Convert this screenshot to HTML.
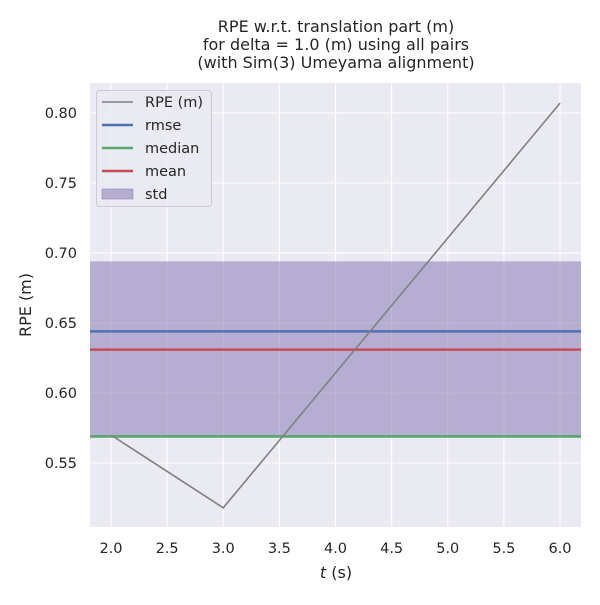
<!DOCTYPE html>
<html><head><meta charset="utf-8"><style>
body{margin:0;background:#fff}
text{font-family:"DejaVu Sans","Liberation Sans",sans-serif;fill:#262626}
</style></head><body>
<svg id="c" width="600" height="600" xmlns="http://www.w3.org/2000/svg"></svg>
<script>
const tValues=[2,3,6];
const rpeValues=[0.570,0.518,0.807];
const rmseValue=0.644;
const medianValue=0.569;
const meanValue=0.631;
const stdValue=0.063;
const xTicks=[2.0,2.5,3.0,3.5,4.0,4.5,5.0,5.5,6.0];
const yTicks=[0.55,0.60,0.65,0.70,0.75,0.80];
const X0=90,X1=581,Y0=83,Y1=527;
const xmin=1.813,xmax=6.187,ymin=0.5043,ymax=0.8214;
const sx=v=>X0+(v-xmin)/(xmax-xmin)*(X1-X0);
const sy=v=>Y1-(v-ymin)/(ymax-ymin)*(Y1-Y0);
const svg=document.getElementById('c');const NS='http://www.w3.org/2000/svg';
function mk(t,a,p){const e=document.createElementNS(NS,t);for(const k in a)e.setAttribute(k,a[k]);(p||svg).appendChild(e);return e;}
let e=mk('rect',{x:X0,y:Y0,width:X1-X0,height:Y1-Y0,fill:'#eaeaf2'});


xTicks.forEach(v=>{const x=sx(v);
e=mk('line',{x1:x,x2:x,y1:Y0,y2:Y1,stroke:'#fff','stroke-width':1.1});


e=mk('text',{x:x,y:553,'text-anchor':'middle','font-size':14.5});e.textContent=v.toFixed(1);

});
yTicks.forEach(v=>{const y=sy(v);
e=mk('line',{x1:X0,x2:X1,y1:y,y2:y,stroke:'#fff','stroke-width':1.1});


e=mk('text',{x:77,y:y+5,'text-anchor':'end','font-size':14.5});e.textContent=v.toFixed(2);

});
e=mk('rect',{x:X0,y:sy(meanValue+stdValue),width:X1-X0,height:sy(meanValue-stdValue)-sy(meanValue+stdValue),fill:'#8172b2','fill-opacity':0.5});


[[rmseValue,'#4c72b0','rmse-line'],[medianValue,'#55a868','median-line'],[meanValue,'#c44e52','mean-line']].forEach(([v,c,n])=>{
e=mk('line',{x1:X0,x2:X1,y1:sy(v),y2:sy(v),stroke:c,'stroke-width':2.5});

});
e=mk('polyline',{points:tValues.map((t,i)=>sx(t)+','+sy(rpeValues[i])).join(' '),fill:'none',stroke:'#808080','stroke-width':1.6});


const g=mk('g',{});


mk('rect',{x:96.5,y:90.5,width:115,height:116,rx:3,fill:'#eaeaf2','fill-opacity':0.8,stroke:'#ccc'},g);
const items=[['RPE (m)','#808080','line'],['rmse','#4c72b0','line'],['median','#55a868','line'],['mean','#c44e52','line'],['std','#8172b2','patch']];
items.forEach(([l,c,k],i)=>{const y=102+i*23;
if(k==='line'){e=mk('line',{x1:102,x2:133,y1:y,y2:y,stroke:c,'stroke-width':i===0?1.6:2.5},g);}
else{e=mk('rect',{x:102,y:y-5,width:31,height:10,fill:c,'fill-opacity':0.5,stroke:c,'stroke-opacity':0.5},g);}


e=mk('text',{x:145,y:y+5,'font-size':14.5},g);e.textContent=l;

});
['RPE w.r.t. translation part (m)','for delta = 1.0 (m) using all pairs','(with Sim(3) Umeyama alignment)'].forEach((s,i)=>{
e=mk('text',{x:336,y:32+i*18,'text-anchor':'middle','font-size':16});e.textContent=s;

});
e=mk('text',{x:336,y:578,'text-anchor':'middle','font-size':16});e.innerHTML='<tspan font-style="italic">t</tspan> (s)';


e=mk('text',{x:31,y:305,'text-anchor':'middle','font-size':16,transform:'rotate(-90 31 305)'});e.textContent='RPE (m)';


</script>
</body></html>
